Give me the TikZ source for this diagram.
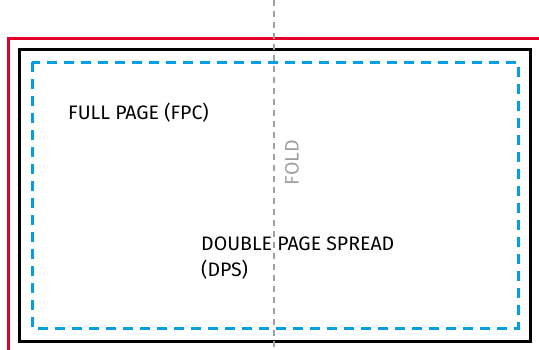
\documentclass[tikz,border=0pt]{standalone}
\usepackage{fontspec}
\setmainfont{Fira Sans}
\definecolor{bleedred}{RGB}{228,0,43}
\definecolor{safeblue}{RGB}{0,160,226}
\definecolor{foldgray}{RGB}{160,160,160}
\begin{document}
\begin{tikzpicture}[x=1pt,y=-1pt,every node/.style={inner sep=0pt,font=\fontsize{19.5}{26}\selectfont},
  bleed/.style={bleedred,line width=3pt},
  trim/.style={black,line width=3pt},
  safe/.style={safeblue,line width=3pt,dash pattern=on 10pt off 7pt},
  fold/.style={foldgray,line width=2.4pt,dash pattern=on 6pt off 5pt}]
  \clip (0,0) rectangle (539,349);
  \draw[bleed] (8,38) rectangle (570,380);
  \draw[trim] (19,49) rectangle (530,341);
  \draw[safe] (32,62) rectangle (518,328);
  \coordinate (foldtop) at (274,0);
  \coordinate (foldbot) at (274,349);
  \draw[fold] (foldtop) -- (foldbot);
  \node[anchor=west] (fpc) at (68,113) {FULL PAGE (FPC)};
  \node[anchor=east,rotate=90,text=foldgray] (foldlbl) at (292,140) {FOLD};
  \node[anchor=north west,align=left] (dps) at (201,237) {DOUBLE PAGE SPREAD\\(DPS)};
\end{tikzpicture}
\end{document}
